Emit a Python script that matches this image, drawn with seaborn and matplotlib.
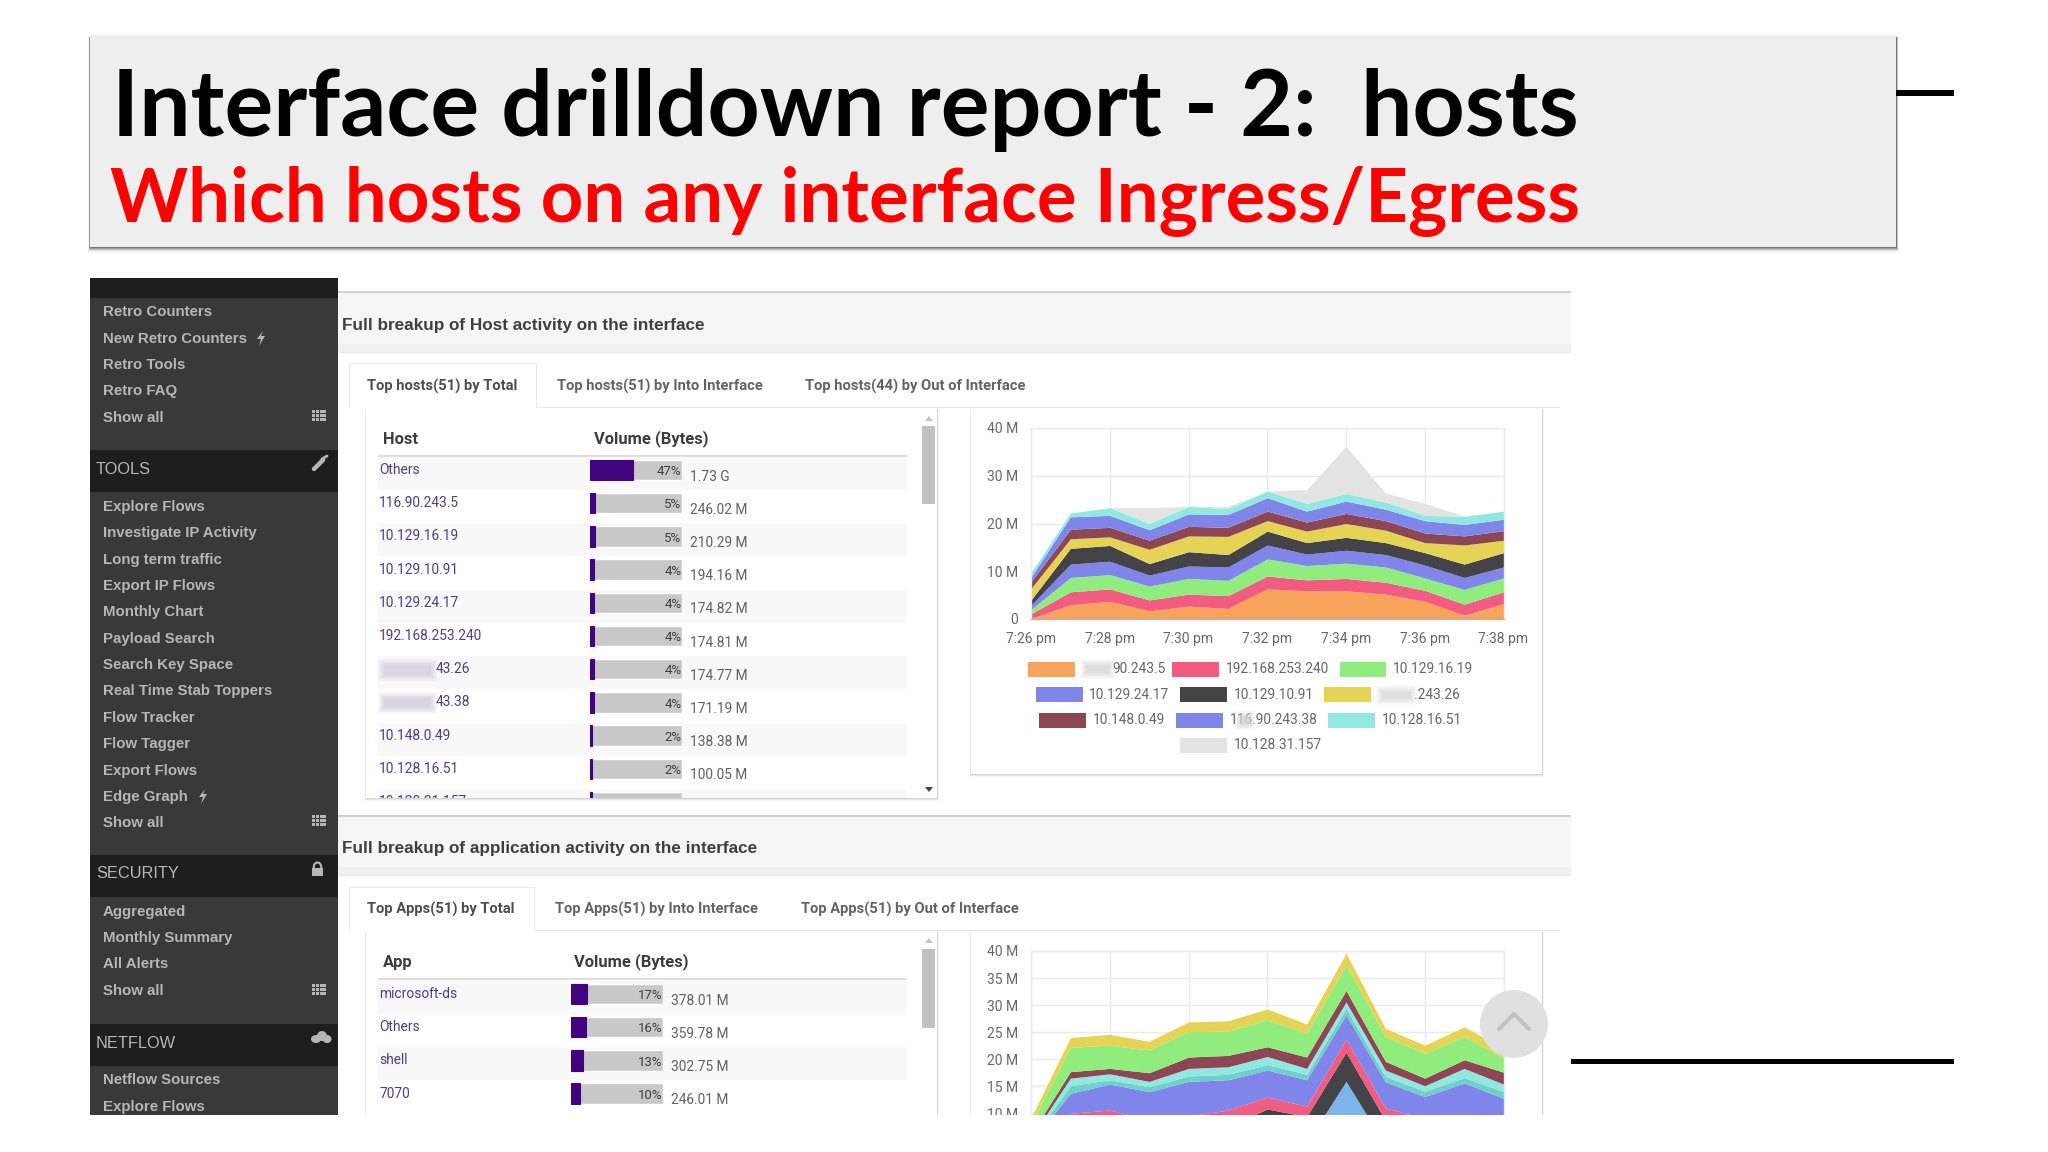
import numpy as np
import pandas as pd
import matplotlib
matplotlib.use('Agg')
import matplotlib.pyplot as plt
import seaborn as sns
from matplotlib.patches import Rectangle, Circle, Polygon, Ellipse

# --- host table
host_names = ['Others', '116.90.243.5', '10.129.16.19', '10.129.10.91', '10.129.24.17', '192.168.253.240',
              '43.26', '43.38', '10.148.0.49', '10.128.16.51', '10.128.31.157']
host_pct = [47, 5, 5, 4, 4, 4, 4, 4, 2, 2, 2]
host_volume = ['1.73 G', '246.02 M', '210.29 M', '194.16 M', '174.82 M', '174.81 M', '174.77 M', '171.19 M',
               '138.38 M', '100.05 M', '']

# --- app table
app_names = ['microsoft-ds', 'Others', 'shell', '7070']
app_pct = [17, 16, 13, 10]
app_volume = ['378.01 M', '359.78 M', '302.75 M', '246.01 M']

# --- host area chart
time_labels = ['7:26 pm', '7:28 pm', '7:30 pm', '7:32 pm', '7:34 pm', '7:36 pm', '7:38 pm']
minutes = list(range(13))
host_series = {
    '116.90.243.5': [.1, 3.0, 3.7, 1.7, 2.7, 2.2, 6.3, 5.9, 5.9, 5.2, 3.7, .8, 3.2],
    '192.168.253.240': [1.0, 2.7, 2.6, 2.3, 2.5, 2.7, 2.7, 2.3, 2.6, 2.5, 2.3, 2.3, 2.5],
    '10.129.16.19': [.9, 3.0, 3.0, 2.9, 3.3, 3.2, 3.6, 3.0, 3.2, 3.2, 2.6, 3.1, 2.9],
    '10.129.24.17': [.9, 2.8, 2.8, 2.3, 2.6, 2.8, 2.9, 2.4, 2.7, 2.6, 2.7, 2.5, 2.3],
    '10.129.10.91': [1.1, 3.3, 3.3, 2.4, 3.0, 2.6, 2.9, 2.4, 2.7, 2.5, 2.6, 2.8, 3.0],
    '116.90.243.26': [2.4, 2.0, 1.8, 3.0, 3.3, 3.8, 2.2, 2.4, 2.9, 2.6, 2.1, 4.0, 2.6],
    '10.148.0.49': [1.4, 2.0, 2.0, 1.9, 2.0, 1.9, 2.0, 1.9, 2.1, 2.0, 2.0, 1.9, 2.0],
    '116.90.243.38': [1.0, 2.6, 2.5, 2.2, 2.6, 2.7, 2.8, 2.3, 2.6, 2.4, 2.6, 2.4, 2.4],
    '10.128.16.51': [.9, .8, 1.6, 1.3, 1.6, 1.2, 1.4, 1.6, 1.6, 1.5, 1.1, 1.7, 1.7],
    '10.128.31.157': [0, 0, 0, 3.3, 0, .5, 0, 2.9, 9.9, 1.9, 2.5, .1, 0],
}
host_colors = ['#f7a35c', '#f15c80', '#90ed7d', '#8085e9', '#434348', '#e4d354', '#8d4653', '#8085e9', '#91e8e1', '#e3e3e3']

# --- app area chart (part below 10 M is cut off in the picture)
app_series = [
    [.5, 4, 4.2, 3.5, 3.8, 4, 4.2, 4.5, 15.9, 4.1, 3.3, 4, 3.2],
    [1, 3, 3.3, 3, 3.2, 3.5, 6.6, 4.9, 5.4, 4.6, 3.2, 3.5, 3.3],
    [.5, 3, 3.1, 2.3, 2.5, 3.1, 2.2, 1.9, 2.4, 2.3, 2.5, 2.2, 2],
    [2.5, 3.7, 4.8, 5.2, 6.4, 5.6, 5, 4.9, 4.5, 4.8, 4.1, 5.9, 4.3],
    [.5, 1.4, .8, .9, 1, 1, 1, 1, 1.2, 1, 1, 1, 1.2],
    [.5, 1.4, 1.1, 1, 1.4, 1.4, 1.5, 1.1, 1.2, 1.2, 1, 1.7, 1.4],
    [.6, 1.2, 1, 1.6, 2.1, 2.1, 1.8, 2.1, 2.1, 1.6, 1.4, 1.6, 2.2],
    [1.9, 4.5, 4.3, 4.2, 4.7, 4.5, 5, 4.4, 4.7, 4.6, 4.6, 4.3, 2.6],
    [1.2, 1.8, 2, 1.6, 1.8, 1.9, 2, 1.7, 2.2, 1.5, 1.5, 1.8, 1.8],
]
app_colors = ['#7cb5ec', '#434348', '#f15c80', '#8085e9', '#6fcfc9', '#91e8e1', '#8d4653', '#90ed7d', '#e4d354']

# --- sidebar
retro_items = ['Retro Counters', 'New Retro Counters', 'Retro Tools', 'Retro FAQ', 'Show all']
tools_items = ['Explore Flows', 'Investigate IP Activity', 'Long term traffic', 'Export IP Flows', 'Monthly Chart',
               'Payload Search', 'Search Key Space', 'Real Time Stab Toppers', 'Flow Tracker', 'Flow Tagger',
               'Export Flows', 'Edge Graph', 'Show all']
security_items = ['Aggregated', 'Monthly Summary', 'All Alerts', 'Show all']
netflow_items = ['Netflow Sources', 'Explore Flows']

sns.set_theme(style='white')
plt.rcParams['font.family'] = ['Roboto', 'DejaVu Sans']

W, H = 2048, 1152
fig = plt.figure(figsize=(W / 100, H / 100), dpi=100, facecolor='white')

bg = fig.add_axes([0, 0, 1, 1], zorder=0)
bg.set_xlim(0, W)
bg.set_ylim(H, 0)
bg.axis('off')

over = fig.add_axes([0, 0, 1, 1], zorder=10)
over.set_xlim(0, W)
over.set_ylim(H, 0)
over.axis('off')
over.patch.set_alpha(0)


def px_axes(left, top, right, bottom, zorder=2):
    return fig.add_axes([left / W, 1 - bottom / H, (right - left) / W, (bottom - top) / H], zorder=zorder)


def rect(ax, x0, y0, x1, y1, color, zorder=1, alpha=1):
    ax.add_patch(Rectangle((x0, y0), x1 - x0, y1 - y0, facecolor=color, edgecolor='none', zorder=zorder, alpha=alpha))


def card(x0, y0, x1, y1):
    # soft shadow then white face
    for off, a in [(3, .05), (2, .09), (1, .14)]:
        rect(bg, x0 - off / 2, y0, x1 + off / 2, y1 + off, '#555555', zorder=1.1, alpha=a)
    rect(bg, x0, y0, x1, y1, 'white', zorder=1.2)


def blob(x0, x1, yc, h, color):
    # stand-in for the smudged part of an address
    for grow, a in [(5, .2), (3, .3), (1, .45), (-1, .7)]:
        rect(bg, x0 - grow, yc - h / 2 - grow, x1 + grow, yc + h / 2 + grow, color, zorder=3, alpha=a)


def txt(x, y, s, size=9.9, color='#555555', weight='normal', ha='left', family=None, ax=bg, zorder=2.5, va='center'):
    kw = {'family': family} if family else {}
    return ax.text(x, y, s, fontsize=size, color=color, fontweight=weight, ha=ha, va=va, zorder=zorder, **kw)


# --- slide title
for off, a in [(6, .05), (4, .12), (3, .2), (2, .3), (1, .4)]:
    rect(bg, 90 - off / 3, 37, 1896 + off / 2, 247 + off, '#444444', zorder=.5, alpha=a)
rect(bg, 90, 35, 1896, 247, '#eeeeee', zorder=.6)
txt(112, 136, 'Interface drilldown report - 2:  hosts', size=65.7, color='black', weight='bold', family='Lato', va='baseline')
txt(110, 221.7, 'Which hosts on any interface Ingress/Egress', size=53.6, color='#ff0000', weight='bold', family='Lato', va='baseline')
rect(bg, 1896, 90, 1954, 96, 'black')
rect(bg, 1571, 1059, 1954, 1064, 'black')

# --- sidebar
rect(bg, 90, 278, 338, 1115, '#39393b')
rect(bg, 90, 278, 338, 298, '#1e1e1f', zorder=1.1)
SIDE = '#b4b7b9'


def side_items(items, y0, step=26.35):
    for i, name in enumerate(items):
        txt(103, y0 + i * step + 1.3, name, size=10.85, color=SIDE, weight='bold', family='Liberation Sans')


def side_header(y0, y1, name):
    rect(bg, 90, y0, 338, y1, '#1e1e1f', zorder=1.1)
    txt(96, (y0 + y1) / 2 - 2, name, size=11.8, color=SIDE, weight='normal', family='Liberation Sans')


def grid_icon(x, y):
    for r in range(3):
        for c in range(4):
            rect(bg, x + c * 3.8, y + r * 3.9, x + c * 3.8 + 3, y + r * 3.9 + 3.1, SIDE, zorder=2)


def bolt_icon(x, y):
    bg.add_patch(Polygon([(x + 3, y - 7), (x - 3, y + 1), (x + 1, y + 1), (x - 1, y + 8), (x + 5, y - 2), (x + 1, y - 2)],
                         facecolor=SIDE, edgecolor='none', zorder=2))


side_items(retro_items, 311)
side_header(450, 492, 'TOOLS')
side_items(tools_items, 505.7)
side_header(855, 897, 'SECURITY')
side_items(security_items, 910.5)
side_header(1024, 1066, 'NETFLOW')
side_items(netflow_items, 1079)
grid_icon(312, 410)
grid_icon(312, 815)
grid_icon(312, 984)
bolt_icon(260, 338)
bolt_icon(202, 796)
# wrench
bg.plot([314, 323], [469, 460], color=SIDE, lw=3.2, solid_capstyle='round', zorder=2)
bg.plot([322, 327], [459, 456], color=SIDE, lw=2, zorder=2)
# lock
rect(bg, 312, 868, 323, 876, SIDE, zorder=2)
bg.add_patch(Ellipse((317.5, 867), 7.5, 9, facecolor='none', edgecolor=SIDE, lw=1.5, zorder=2))
# cloud
for cx, cy, w, h in [(316, 1039, 10, 8), (322, 1036, 10, 10), (327, 1039, 9, 8)]:
    bg.add_patch(Ellipse((cx, cy), w, h, facecolor=SIDE, edgecolor='none', zorder=2))


# --- content sections
def section(top_line, band_bottom, title, tab_top, tab_bottom, tab_right, tabs):
    rect(bg, 338, top_line - 2, 1571, top_line, '#cfcfcf')
    rect(bg, 338, top_line, 1571, band_bottom, '#f5f5f5')
    rect(bg, 338, band_bottom - 8, 1571, band_bottom, '#f0f0f0', zorder=1.01)
    rect(bg, 338, band_bottom, 1571, band_bottom + 1, '#e8e8e8')
    txt(342, (top_line + band_bottom) / 2 + 3, title, size=12.35, color='#3f3f3f', weight='bold', family='Liberation Sans')
    rect(bg, 536, tab_bottom - 1, 1560, tab_bottom, '#e6e6e6')
    rect(bg, 349, tab_top - 1, tab_right + 1, tab_bottom, '#e8e8e8', zorder=1.3)
    rect(bg, 350, tab_top, tab_right, tab_bottom + 1, 'white', zorder=1.4)
    for i, (x, label) in enumerate(tabs):
        txt(x, (tab_top + tab_bottom) / 2, label, size=10.6, color='#4d4d4d' if i == 0 else '#636363', weight='bold', zorder=3)


section(293, 352, 'Full breakup of Host activity on the interface', 364, 408, 536,
        [(367, 'Top hosts(51) by Total'), (557, 'Top hosts(51) by Into Interface'), (805, 'Top hosts(44) by Out of Interface')])
section(817, 875, 'Full breakup of application activity on the interface', 888, 931, 534,
        [(367, 'Top Apps(51) by Total'), (555, 'Top Apps(51) by Into Interface'), (801, 'Top Apps(51) by Out of Interface')])

card(366, 409, 937, 798)
card(366, 932, 937, 1130)
card(971, 409, 1542, 774)
card(971, 932, 1542, 1130)


def table(names, pct, volume, col_title, col_x, first_row, bar_left, name_shift, header_y, clip_bottom, thumb, arrows):
    txt(383, header_y + 2, col_title, size=11.9, color='#3c3c3c', weight='bold', zorder=3)
    txt(col_x, header_y + 2, 'Volume (Bytes)', size=11.9, color='#3c3c3c', weight='bold', zorder=3)
    rect(bg, 378, header_y + 18, 907, header_y + 20, '#dedede', zorder=1.5)
    for i in range(len(names)):
        yc = first_row + i * 33.2
        if i % 2 == 0:
            rect(bg, 378, yc - 13, 907, min(yc + 20, clip_bottom), '#f8f8f8', zorder=1.3)
        txt(379 if names[i][0].isalpha() or len(names[i]) > 5 else name_shift, yc, names[i], color='#55398a', zorder=2.2)

    pitch = 33.2
    ax = px_axes(bar_left, first_row - pitch / 2, bar_left + 91.7, clip_bottom)
    rows = (clip_bottom - first_row) / pitch
    frame = pd.DataFrame({'name': names, 'pct': pct, 'track': [100] * len(names)})
    sns.barplot(data=frame, y='name', x='track', color='#c8c8c8', saturation=1, width=.62, orient='h', ax=ax, errorbar=None)
    sns.barplot(data=frame, y='name', x='pct', color='#42047e', saturation=1, width=.62, orient='h', ax=ax, errorbar=None,
                edgecolor='#42047e', linewidth=.8)
    ax.set_xlim(0, 100)
    ax.set_ylim(rows, -.5)
    ax.axis('off')
    for i, (p, v) in enumerate(zip(pct, volume)):
        if first_row + i * pitch + 8 > clip_bottom:
            continue
        ax.text(100, i + .05, f'{p}%', ha='right', va='center', fontsize=9.5, color='#3e3e3e')
        ax.text(109.5, i + .2, v, ha='left', va='center', fontsize=9.9, color='#606060', clip_on=False)

    # scrollbar
    rect(bg, 922, thumb[0], 935, thumb[1], '#c1c1c1', zorder=2)
    bg.add_patch(Polygon([(925, arrows[0] + 3), (933, arrows[0] + 3), (929, arrows[0] - 2)], facecolor='#c4c4c4', edgecolor='none', zorder=2))
    if arrows[1]:
        bg.add_patch(Polygon([(925, arrows[1] - 2), (933, arrows[1] - 2), (929, arrows[1] + 3)], facecolor='#444444', edgecolor='none', zorder=2))


table(host_names, host_pct, host_volume, 'Host', 594, 470, 590, 436, 437, 798, (426, 504), (418, 789))
table(app_names, app_pct, app_volume, 'App', 574, 994, 571, 380, 960, 1115, (949, 1028), (940, None))

# cut the half row at the foot of the host table, then put the card's edge back
rect(bg, 366, 798, 922, 812, 'white', zorder=2.8)
for off, a in [(3, .05), (2, .09), (1, .14)]:
    rect(bg, 366, 798, 922, 798 + off, '#555555', zorder=2.9, alpha=a)

# smudged addresses
blob(383, 432, 670, 12, '#d9cfe3')
blob(383, 432, 703, 12, '#d9cfe3')


def area_chart(left, top, right, bottom, series, colors, ymax, ystep, ymin_label, xlabels):
    ax = px_axes(left, top, right, bottom)
    ax.stackplot(minutes, series, colors=colors, linewidth=0)
    ax.set_xlim(0, 12)
    ax.set_ylim(0, ymax)
    ax.set_xticks(list(range(0, 13, 2)))
    ax.set_xticklabels(xlabels)
    yvals = list(range(ymin_label, ymax + 1, ystep))
    ax.set_yticks(yvals)
    ax.set_yticklabels(['0' if v == 0 else f'{v} M' for v in yvals])
    ax.grid(True, color='#e9e9ef', lw=1)
    ax.set_axisbelow(True)
    ax.tick_params(axis='both', length=8, width=1, color='#e9e9ef', labelsize=10, labelcolor='#666666', pad=1.5)
    ax.tick_params(axis='x', length=0, pad=9)
    for name, spine in ax.spines.items():
        spine.set_color('#e9e9ef')
        spine.set_linewidth(1)
    ax.spines['bottom'].set_color('#b5b5b5')
    ax.set_facecolor('white')
    return ax


area_chart(1031, 428, 1503.5, 619, list(host_series.values()), host_colors, 40, 10, 0, time_labels)
# the lower chart runs past the page cut, so its labels under 10 M and its time axis never show
area_chart(1031, 951, 1503.5, 1167.4, app_series, app_colors, 40, 5, 10, [''] * len(time_labels))

# legend rows of the host chart, centred by hand like the page does
legend_rows = [
    (669, [(1028, 1082, '90.243.5', 1112), (1172, 1225.6, '192.168.253.240', None), (1339.5, 1392.8, '10.129.16.19', None)]),
    (694.7, [(1036, 1089, '10.129.24.17', None), (1180, 1233.5, '10.129.10.91', None), (1324.4, 1378, '.243.26', 1414)]),
    (720, [(1039.4, 1093, '10.148.0.49', None), (1176, 1230, '116.90.243.38', None), (1328.4, 1381.7, '10.128.16.51', None)]),
    (745, [(1180, 1233.5, '10.128.31.157', None)]),
]
order = 0
for yc, entries in legend_rows:
    for sx, tx, label, shifted in entries:
        rect(bg, sx, yc - 7.5, sx + 46.7, yc + 7.5, host_colors[order], zorder=2)
        txt(shifted if shifted else tx, yc, label, size=9.9, color='#666666')
        if shifted:
            blob(tx + 3, shifted - 2, yc, 10, '#dcdcdc')
        order += 1
blob(1240, 1250, 720, 9, '#d4d4d4')

# --- page bottom cut and the scroll-to-top button
rect(over, 80, 1115, 1571, 1152, 'white', zorder=1)
over.add_patch(Circle((1514, 1024), 34, facecolor='#e0e0e2', edgecolor='none', zorder=2))
over.plot([1499, 1514, 1529], [1029, 1014, 1029], color='#c2c2c4', lw=3, zorder=3)

fig.savefig('out.png', dpi=100, facecolor='white')
